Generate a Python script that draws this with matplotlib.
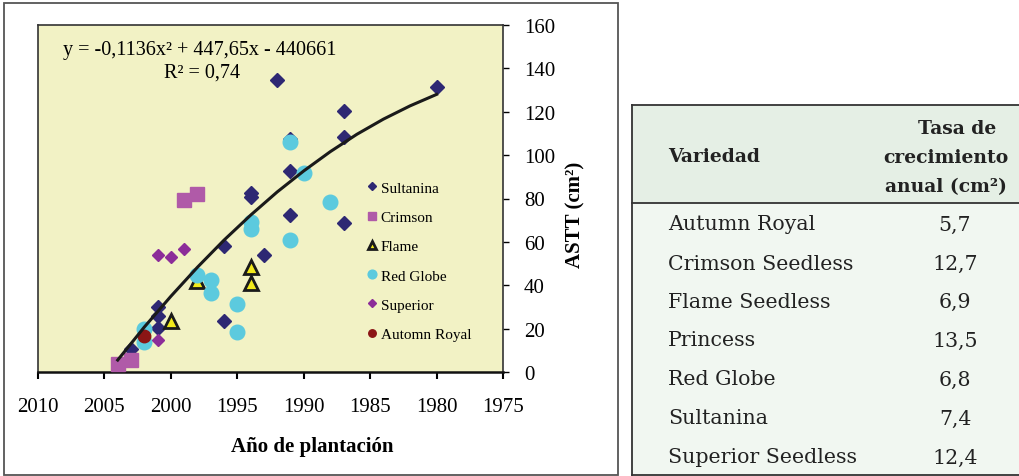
import matplotlib
matplotlib.use('Agg')
import matplotlib.pyplot as plt
from matplotlib.patches import Rectangle
from matplotlib.lines import Line2D

# datos (año de plantacion, ASTT en cm2)
sultanina_x = [1992, 1980, 1987, 1987, 1991, 1991, 1994, 1994, 1991, 1987, 1996, 1993, 1996, 2001, 2001, 2001, 2003]
sultanina_y = [134.6, 131.4, 120.3, 108.3, 107.5, 92.7, 82.5, 80.5, 72.4, 68.7, 58.0, 54.0, 23.5, 29.8, 26.0, 20.3, 10.6]

crimson_x = [1999, 1998, 2004, 2003]
crimson_y = [79.4, 82.0, 3.7, 5.7]

flame_x = [1998, 2000, 1994, 1994]
flame_y = [42.1, 23.7, 48.3, 41.0]

red_globe_x = [1991, 1990, 1988, 1994, 1994, 1991, 1998, 1997, 1997, 1995, 1995, 2002, 2002]
red_globe_y = [106.0, 91.7, 78.5, 69.3, 66.0, 60.9, 44.7, 42.6, 36.3, 31.3, 18.6, 19.8, 13.7]

superior_x = [2001, 2000, 1999, 2001]
superior_y = [54.0, 53.2, 56.7, 14.9]

autumn_x = [2002]
autumn_y = [16.7]

# linea de tendencia
trend_x = [2004, 2002, 2000, 1998, 1996, 1994, 1992, 1990, 1988, 1986, 1984, 1982, 1980]
trend_y = [5.5, 20.7, 34.9, 48.3, 60.8, 72.3, 83.0, 92.7, 101.6, 109.6, 116.6, 122.7, 128.0]

x_ticks = [2010, 2005, 2000, 1995, 1990, 1985, 1980, 1975]
y_ticks = [0, 20, 40, 60, 80, 100, 120, 140, 160]

# tabla
variedades = ['Autumn Royal', 'Crimson Seedless', 'Flame Seedless', 'Princess',
              'Red Globe', 'Sultanina', 'Superior Seedless']
tasas = ['5,7', '12,7', '6,9', '13,5', '6,8', '7,4', '12,4']
encabezado = ['Tasa de', 'crecimiento', 'anual (cm²)']

W, H = 1020, 477
fig = plt.figure(figsize=(W / 100, H / 100), dpi=100)
serif = 'Liberation Serif'


def fx(px):
    return px / W


def fy(py):
    return 1 - py / H


# marco exterior del grafico
fig.patches.append(Rectangle((fx(4), fy(476)), fx(614), 472 / H, transform=fig.transFigure,
                             fill=False, edgecolor='#555555', lw=1.3))

ax = fig.add_axes([fx(38), fy(373), (503 - 38) / W, (373 - 26) / H])
ax.set_facecolor('#f2f2c5')

ax.plot(sultanina_x, sultanina_y, 'D', color='#2e2873', ms=6.8, mec='#2e2873', label='Sultanina', zorder=3)
ax.plot(crimson_x, crimson_y, 's', color='#b05aa8', ms=10.5, mec='#b05aa8', label='Crimson', zorder=3)
ax.plot(flame_x, flame_y, '^', color='#f2ea1c', ms=9.5, mec='#1a1a1a', mew=2, label='Flame', zorder=3)
ax.plot(red_globe_x, red_globe_y, 'o', color='#5ccade', ms=10.5, mec='#5ccade', label='Red Globe', zorder=3)
ax.plot(superior_x, superior_y, 'D', color='#8c2d99', ms=6.2, mec='#8c2d99', label='Superior', zorder=3)
ax.plot(autumn_x, autumn_y, 'o', color='#8b1515', ms=9, mec='#8b1515', label='Automn Royal', zorder=3)
ax.plot(trend_x, trend_y, '-', color='#1a1a1a', lw=2.2, zorder=4)

ax.set_xlim(2010, 1975)
ax.set_ylim(0, 160)
ax.set_xticks(x_ticks)
ax.set_yticks(y_ticks)
ax.yaxis.tick_right()
ax.tick_params(axis='x', direction='out', length=5, width=1.5, pad=13, labelsize=15)
ax.tick_params(axis='y', direction='out', length=4, width=1, pad=11, labelsize=15)
for lab in ax.get_xticklabels() + ax.get_yticklabels():
    lab.set_fontfamily(serif)
for s in ax.spines.values():
    s.set_color('#333333')
    s.set_linewidth(1.2)
ax.spines['bottom'].set_linewidth(1.8)
ax.spines['bottom'].set_color('#111111')

ax.set_xlabel('Año de plantación', fontfamily=serif, fontweight='bold', fontsize=15)
ax.xaxis.set_label_coords((312 - 38) / 465, (373 - 447) / 347)
ax.xaxis.label.set_va('center')
ax.set_ylabel('ASTT (cm²)', fontfamily=serif, fontweight='bold', fontsize=15, rotation=90)
ax.yaxis.set_label_position('right')
ax.yaxis.set_label_coords((575 - 38) / 465, (373 - 215) / 347)
ax.yaxis.label.set_va('center')
ax.yaxis.label.set_ha('center')
ax.yaxis.label.set_rotation_mode('default')

ax.text((200 - 38) / 465, (373 - 51) / 347, 'y = -0,1136x² + 447,65x - 440661', transform=ax.transAxes,
        ha='center', va='center', fontfamily=serif, fontsize=14.5)
ax.text((202 - 38) / 465, (373 - 73) / 347, 'R² = 0,74', transform=ax.transAxes,
        ha='center', va='center', fontfamily=serif, fontsize=14.5)

leg = ax.legend(loc='upper left', bbox_to_anchor=((367 - 38) / 465, (373 - 182) / 347), frameon=False,
                markerscale=0.6, handlelength=0.6, handletextpad=0.3, labelspacing=1.02,
                borderpad=0, borderaxespad=0, prop={'family': serif, 'size': 11})

# tabla a la derecha
fig.patches.append(Rectangle((fx(632), fy(204)), fx(W - 632), 98 / H, transform=fig.transFigure,
                             facecolor='#e5efe5', edgecolor='none'))
fig.patches.append(Rectangle((fx(632), fy(476)), fx(W - 632), 272 / H, transform=fig.transFigure,
                             facecolor='#f1f7f1', edgecolor='none'))
for py in [106, 204, 476]:
    fig.add_artist(Line2D([fx(632), 1], [fy(py), fy(py)], color='#333333', lw=1.3))
fig.add_artist(Line2D([fx(632), fx(632)], [fy(106), fy(476)], color='#333333', lw=1.3))

tfont = 'DejaVu Serif'
fig.text(fx(668), fy(157), 'Variedad', ha='left', va='center', fontfamily=tfont,
         fontweight='bold', fontsize=13.5, color='#222222')
for px, py, t in zip([957, 946, 946], [129, 158, 187], encabezado):
    fig.text(fx(px), fy(py), t, ha='center', va='center', fontfamily=tfont,
             fontweight='bold', fontsize=13.5, color='#222222')
row_y = [225, 264, 302, 341, 380, 419, 458]
for py, v, t in zip(row_y, variedades, tasas):
    fig.text(fx(668), fy(py), v, ha='left', va='center', fontfamily=tfont, fontsize=14.8, color='#222222')
    fig.text(fx(955), fy(py), t, ha='center', va='center', fontfamily=tfont, fontsize=14.8, color='#222222')

fig.savefig('out.png', dpi=100)
